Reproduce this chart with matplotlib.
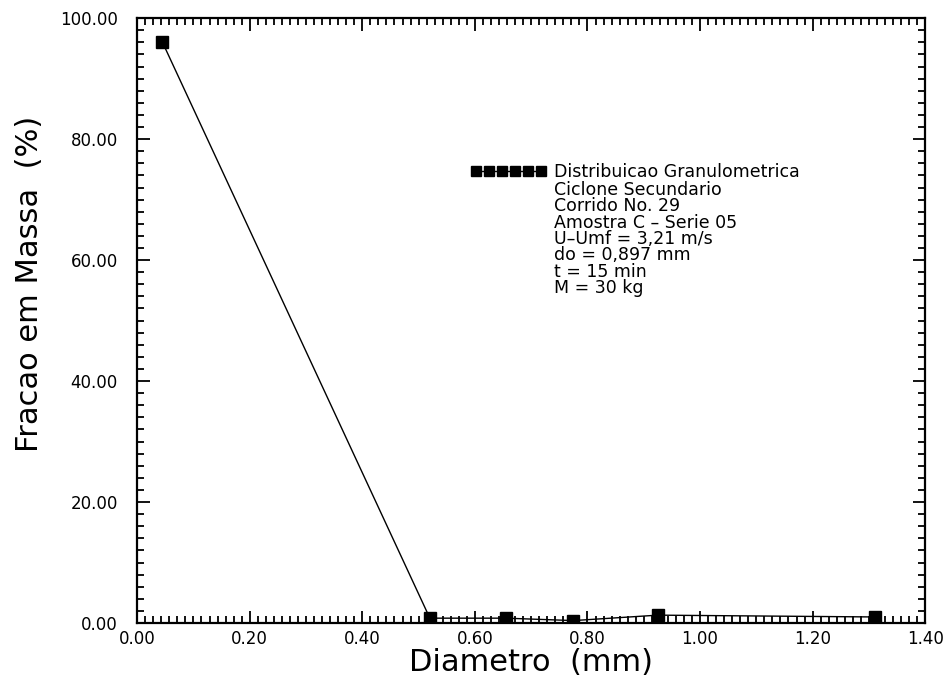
import matplotlib
matplotlib.use('Agg')
import matplotlib.pyplot as plt
from matplotlib.ticker import MultipleLocator, AutoMinorLocator, FormatStrFormatter

# Distribuicao granulometrica - ciclone secundario, corrida 29
diametro = [0.045, 0.52, 0.655, 0.775, 0.925, 1.31]
fracao = [96.0, 0.8, 0.8, 0.4, 1.3, 1.0]

titulo_serie = "Distribuicao Granulometrica"
condicoes = ["Ciclone Secundario",
             "Corrido No. 29",
             "Amostra C \u2013 Serie 05",
             "U\u2013Umf = 3,21 m/s",
             "do = 0,897 mm",
             "t = 15 min",
             "M = 30 kg"]

fig = plt.figure(figsize=(9.46, 6.85), dpi=100)
ax = fig.add_axes([0.145, 0.0905, 0.833, 0.883])

ax.plot(diametro, fracao, color='black', lw=1.0, marker='s', ms=8,
        label=titulo_serie)

ax.set_xlim(0.0, 1.40)
ax.set_ylim(0.0, 100.0)
ax.xaxis.set_major_locator(MultipleLocator(0.20))
ax.yaxis.set_major_locator(MultipleLocator(20))
ax.xaxis.set_minor_locator(AutoMinorLocator(14))
ax.yaxis.set_minor_locator(AutoMinorLocator(10))
ax.xaxis.set_major_formatter(FormatStrFormatter('%.2f'))
ax.yaxis.set_major_formatter(FormatStrFormatter('%.2f'))

ax.tick_params(which='both', direction='in', top=True, right=True,
               labelsize=12, width=1.3)
ax.tick_params(which='major', length=9)
ax.tick_params(which='minor', length=5)
ax.tick_params(axis='y', pad=14)
ax.tick_params(axis='x', pad=5)
for s in ax.spines.values():
    s.set_linewidth(1.6)

ax.set_xlabel('Diametro  (mm)', fontsize=22, labelpad=0)
ax.set_ylabel('Fracao em Massa  (%)', fontsize=22)
ax.yaxis.set_label_coords(-0.118, 0.56)

leg = ax.legend(loc='upper left', bbox_to_anchor=(0.415, 0.772), frameon=False,
                numpoints=6, handlelength=4.3, handletextpad=0.45,
                fontsize=12.5, markerscale=0.95, borderaxespad=0)
# remaining legend lines, hung under the first legend text line
ax.annotate("\n".join(condicoes), xy=(0, 0), xycoords=leg.get_texts()[0],
            xytext=(0, 0), textcoords='offset points', ha='left', va='top',
            fontsize=12.5, linespacing=0.88, zorder=10)

fig.savefig('out.png', dpi=100)
